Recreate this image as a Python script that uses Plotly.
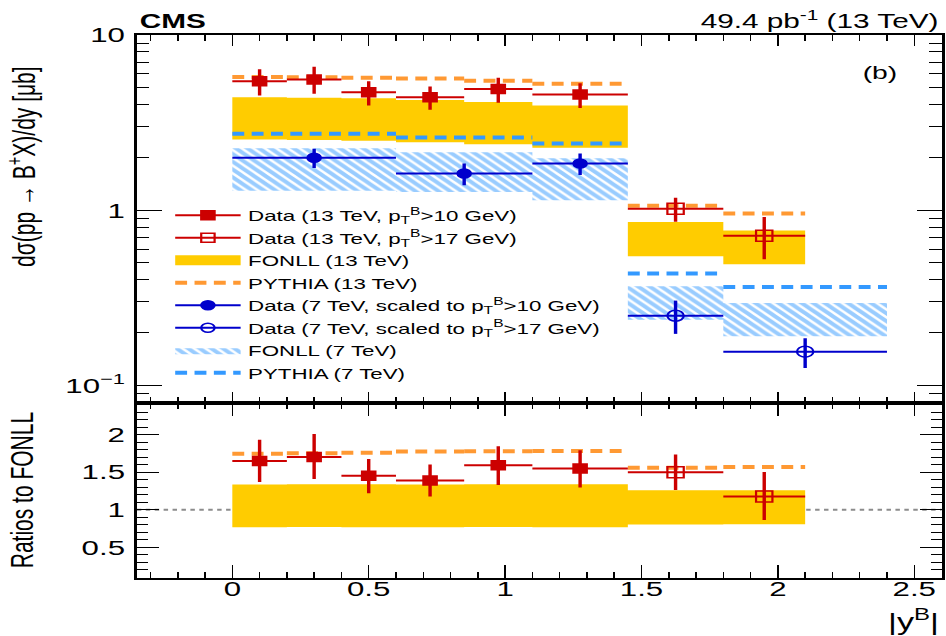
import plotly.graph_objects as go
from plotly.subplots import make_subplots

# ---- 13 TeV measurement, |y| bins -------------------------------------
bin13_lo = [0.0, 0.2, 0.4, 0.6, 0.85, 1.1, 1.45, 1.8]
bin13_hi = [0.2, 0.4, 0.6, 0.85, 1.1, 1.45, 1.8, 2.1]
xsec13 = [5.44, 5.58, 4.72, 4.41, 4.92, 4.58, 1.02, 0.716]
xsec13_err_up = [0.93, 1.00, 0.72, 0.68, 0.78, 0.72, 0.16, 0.20]
xsec13_err_dn = [0.92, 0.96, 0.76, 0.67, 0.82, 0.75, 0.16, 0.19]
n_pt10_13 = 6  # first bins use pT > 10 GeV, the rest pT > 17 GeV

fonll13_central = [3.30, 3.28, 3.25, 3.18, 3.09, 2.96, 0.681, 0.61]
fonll13_lo = [2.53, 2.52, 2.49, 2.44, 2.38, 2.27, 0.547, 0.492]
fonll13_hi = [4.41, 4.39, 4.35, 4.25, 4.14, 3.96, 0.857, 0.767]
pythia13 = [5.76, 5.74, 5.71, 5.64, 5.49, 5.27, 1.06, 0.957]

# ---- 7 TeV measurement (scaled) ---------------------------------------
bin7_lo = [0.0, 0.6, 1.1, 1.45, 1.8]
bin7_hi = [0.6, 1.1, 1.45, 1.8, 2.4]
xsec7 = [1.995, 1.62, 1.85, 0.250, 0.156]
xsec7_err_up = [0.245, 0.23, 0.26, 0.055, 0.030]
xsec7_err_dn = [0.255, 0.23, 0.26, 0.053, 0.030]
n_pt10_7 = 3

fonll7_lo = [1.29, 1.27, 1.14, 0.237, 0.191]
fonll7_hi = [2.26, 2.14, 1.98, 0.368, 0.296]
pythia7 = [2.73, 2.60, 2.40, 0.435, 0.365]

RED = "#cc0000"
BLUE = "#0000cc"
YELLOW = "#ffcc00"
ORANGE = "#ff9933"
LBLUE = "#3399ff"
FONT = "Liberation Sans, Arial, Helvetica, sans-serif"

# The chart is laid out on a square 636x636 canvas and widened to 946 px.
PAGE_W, PAGE_H = 946, 636
W = PAGE_H
SX = PAGE_W / W


def centers(lo, hi):
    return [(a + b) / 2 for a, b in zip(lo, hi)]


def half_widths(lo, hi):
    return [(b - a) / 2 for a, b in zip(lo, hi)]


def step_segments(lo, hi, vals):
    xs, ys = [], []
    for a, b, v in zip(lo, hi, vals):
        xs += [a, b, None]
        ys += [v, v, None]
    return xs, ys


def boxes(lo, hi, ylo, yhi):
    xs, ys = [], []
    for a, b, l, h in zip(lo, hi, ylo, yhi):
        xs += [a, b, b, a, a, None]
        ys += [l, l, h, h, l, None]
    return xs, ys


x13 = centers(bin13_lo, bin13_hi)
hw13 = half_widths(bin13_lo, bin13_hi)
x7 = centers(bin7_lo, bin7_hi)
hw7 = half_widths(bin7_lo, bin7_hi)

fig = make_subplots(rows=2, cols=1, shared_xaxes=True)

DASH = "8px,5px"
HATCH = dict(shape="\\", fgcolor=LBLUE, bgcolor="rgba(0,0,0,0)",
             size=5.5, solidity=0.6)

# ---- upper panel -------------------------------------------------------
bx, by = boxes(bin13_lo, bin13_hi, fonll13_lo, fonll13_hi)
fig.add_trace(go.Scatter(x=bx, y=by, mode="lines", fill="toself",
                         fillcolor=YELLOW, line=dict(width=0),
                         showlegend=False), row=1, col=1)

bx, by = boxes(bin7_lo, bin7_hi, fonll7_lo, fonll7_hi)
fig.add_trace(go.Scatter(x=bx, y=by, mode="lines", fill="toself",
                         fillcolor="rgba(0,0,0,0)", line=dict(width=0),
                         fillpattern=HATCH, showlegend=False), row=1, col=1)

px, py = step_segments(bin13_lo, bin13_hi, pythia13)
fig.add_trace(go.Scatter(x=px, y=py, mode="lines",
                         line=dict(color=ORANGE, width=4, dash=DASH),
                         name="PYTHIA (13 TeV)", legendrank=4), row=1, col=1)
px, py = step_segments(bin7_lo, bin7_hi, pythia7)
fig.add_trace(go.Scatter(x=px, y=py, mode="lines",
                         line=dict(color=LBLUE, width=4, dash=DASH),
                         name="PYTHIA (7 TeV)", legendrank=8), row=1, col=1)


def data_trace(xs, hws, ys, up, dn, color, symbol, size):
    return go.Scatter(
        x=xs, y=ys, mode="markers", showlegend=False,
        marker=dict(color=color, symbol=symbol, size=size,
                    line=dict(color=color, width=1.5)),
        error_x=dict(type="data", array=hws, color=color, thickness=2, width=0),
        error_y=dict(type="data", array=up, arrayminus=dn, color=color,
                     thickness=2.3, width=0))


k = n_pt10_13
fig.add_trace(data_trace(x13[:k], hw13[:k], xsec13[:k], xsec13_err_up[:k],
                         xsec13_err_dn[:k], RED, "square", 9), row=1, col=1)
fig.add_trace(data_trace(x13[k:], hw13[k:], xsec13[k:], xsec13_err_up[k:],
                         xsec13_err_dn[k:], RED, "square-open", 11), row=1, col=1)
k = n_pt10_7
fig.add_trace(data_trace(x7[:k], hw7[:k], xsec7[:k], xsec7_err_up[:k],
                         xsec7_err_dn[:k], BLUE, "circle", 9), row=1, col=1)
fig.add_trace(data_trace(x7[k:], hw7[k:], xsec7[k:], xsec7_err_up[k:],
                         xsec7_err_dn[k:], BLUE, "circle-open", 11), row=1, col=1)

# legend entries
legend_items = [
    ("Data (13 TeV, p<sub>T</sub><sup>B</sup>&gt;10 GeV)", RED, "square", 1),
    ("Data (13 TeV, p<sub>T</sub><sup>B</sup>&gt;17 GeV)", RED, "square-open", 2),
    ("Data (7 TeV, scaled to p<sub>T</sub><sup>B</sup>&gt;10 GeV)", BLUE, "circle", 5),
    ("Data (7 TeV, scaled to p<sub>T</sub><sup>B</sup>&gt;17 GeV)", BLUE, "circle-open", 6),
]
for label, color, sym, rank in legend_items:
    fig.add_trace(go.Scatter(x=[None], y=[None], mode="lines+markers", name=label,
                             legendrank=rank,
                             line=dict(color=color, width=2),
                             marker=dict(color=color, symbol=sym, size=9,
                                         line=dict(color=color, width=1.5))),
                  row=1, col=1)
fig.add_trace(go.Scatter(x=[None], y=[None], mode="lines", name="FONLL (13 TeV)",
                         legendrank=3, line=dict(color=YELLOW, width=14)),
              row=1, col=1)
fig.add_trace(go.Scatter(x=[None], y=[None], mode="lines", fill="toself",
                         name="FONLL (7 TeV)", legendrank=7,
                         fillcolor="rgba(0,0,0,0)", line=dict(width=0),
                         fillpattern=HATCH),
              row=1, col=1)

# ---- lower panel: ratios to FONLL -------------------------------------
r_lo = [l / c for l, c in zip(fonll13_lo, fonll13_central)]
r_hi = [h / c for h, c in zip(fonll13_hi, fonll13_central)]
bx, by = boxes(bin13_lo, bin13_hi, r_lo, r_hi)
fig.add_trace(go.Scatter(x=bx, y=by, mode="lines", fill="toself",
                         fillcolor=YELLOW, line=dict(width=0),
                         showlegend=False), row=2, col=1)

r_py = [p / c for p, c in zip(pythia13, fonll13_central)]
px, py = step_segments(bin13_lo, bin13_hi, r_py)
fig.add_trace(go.Scatter(x=px, y=py, mode="lines", showlegend=False,
                         line=dict(color=ORANGE, width=4, dash=DASH)),
              row=2, col=1)

r_data = [d / c for d, c in zip(xsec13, fonll13_central)]
r_up = [e / c for e, c in zip(xsec13_err_up, fonll13_central)]
r_dn = [e / c for e, c in zip(xsec13_err_dn, fonll13_central)]
k = n_pt10_13
fig.add_trace(data_trace(x13[:k], hw13[:k], r_data[:k], r_up[:k], r_dn[:k],
                         RED, "square", 9), row=2, col=1)
fig.add_trace(data_trace(x13[k:], hw13[k:], r_data[k:], r_up[k:], r_dn[k:],
                         RED, "square-open", 11), row=2, col=1)

# ---- axes ---------------------------------------------------------------
ML, MR, MT, MB = 137 / SX, 2 / SX, 35, 58
split = (578 - 403) / (PAGE_H - MT - MB)

xcommon = dict(range=[-0.35, 2.6], tick0=0, dtick=0.5, ticks="inside",
               showline=True, linecolor="black", linewidth=1.5, mirror="allticks",
               showgrid=False, zeroline=False, tickcolor="black", tickwidth=1,
               minor=dict(ticks="inside", dtick=0.1, ticklen=6, tickcolor="black",
                          tickwidth=1, showgrid=False))
fig.update_xaxes(**xcommon)
fig.update_xaxes(row=1, col=1, showticklabels=False, ticklen=11)
fig.update_xaxes(row=2, col=1, showticklabels=True, ticklen=13,
                 ticklabelstandoff=-9,
                 tickfont=dict(size=21, family=FONT, color="black"))

fig.update_yaxes(row=1, col=1, type="log", range=[-1.1, 1.0],
                 tickvals=[0.1, 1, 10], ticktext=["10<sup>\u22121</sup>", "1", "10"],
                 ticks="inside", ticklen=17, tickwidth=1, tickcolor="black",
                 showline=True, linecolor="black", linewidth=1.5, mirror="allticks",
                 showgrid=False, zeroline=False, ticklabelstandoff=2,
                 tickfont=dict(size=21, family=FONT, color="black"),
                 minor=dict(ticks="inside", dtick="D1", ticklen=8.5,
                            tickcolor="black", tickwidth=1, showgrid=False),
                 domain=[split, 1.0])
fig.update_yaxes(row=2, col=1, range=[0.09, 2.42], tick0=0, dtick=0.5,
                 ticks="inside", ticklen=15, tickwidth=1, tickcolor="black",
                 showline=True, linecolor="black", linewidth=1.5, mirror="allticks",
                 showgrid=False, zeroline=False, ticklabelstandoff=2,
                 tickfont=dict(size=21, family=FONT, color="black"),
                 minor=dict(ticks="inside", dtick=0.1, ticklen=7.5, tickcolor="black",
                            tickwidth=1, showgrid=False),
                 domain=[0.0, split])

fig.add_shape(type="line", xref="x2 domain", x0=0, x1=1, yref="y2", y0=1, y1=1,
              line=dict(color="#8c8c8c", width=2, dash="dot"), layer="below")

# ---- labels ---------------------------------------------------------------
PH = PAGE_H - MT - MB
PW = W - ML - MR


def px_x(x):
    return (x / SX - ML) / PW


def px_y(y):
    return (PAGE_H - MB - y) / PH


ann = dict(showarrow=False, xref="paper", yref="paper",
           font=dict(family=FONT, color="black"))
fig.add_annotation(**ann, text="d\u03c3(pp \u2192 B<sup>+</sup>X)/dy [\u03bcb]",
                   textangle=-90, x=px_x(22), y=px_y(166),
                   xanchor="center", yanchor="middle", font_size=21)
fig.add_annotation(**ann, text="Ratios to FONLL", textangle=-90,
                   x=px_x(21), y=px_y(490), xanchor="center", yanchor="middle",
                   font_size=21)
fig.add_annotation(**ann, text="|y<sup>B</sup>|", x=1.0, xanchor="right",
                   y=px_y(620), yanchor="middle", font_size=23)
fig.add_annotation(**ann, text="<b>CMS</b>", x=px_x(137), xanchor="left",
                   y=px_y(21), yanchor="middle", font_size=20)
fig.add_annotation(**ann, text="49.4 pb<sup>-1</sup> (13 TeV)", x=1.0,
                   xanchor="right", y=px_y(20), yanchor="middle", font_size=20)
fig.add_annotation(**ann, text="(b)", x=px_x(882), y=px_y(72),
                   xanchor="center", yanchor="middle", font_size=19)

fig.update_layout(
    width=W, height=PAGE_H,
    margin=dict(l=ML, r=MR, t=MT, b=MB),
    paper_bgcolor="white", plot_bgcolor="white",
    font=dict(family=FONT, color="black"),
    legend=dict(x=px_x(168), y=px_y(199), xanchor="left",
                yanchor="top", bgcolor="rgba(0,0,0,0)", borderwidth=0,
                font=dict(size=15, family=FONT, color="black"),
                itemwidth=44, tracegroupgap=0, traceorder="normal"),
)

# stretch the square canvas horizontally to the page width
stretch_js = (
    "var gd = document.getElementById('{plot_id}');"
    "gd.style.transformOrigin = '0 0';"
    "gd.style.transform = 'scaleX(%.5f)';" % SX
)
fig.write_html("out.html", post_script=stretch_js)
